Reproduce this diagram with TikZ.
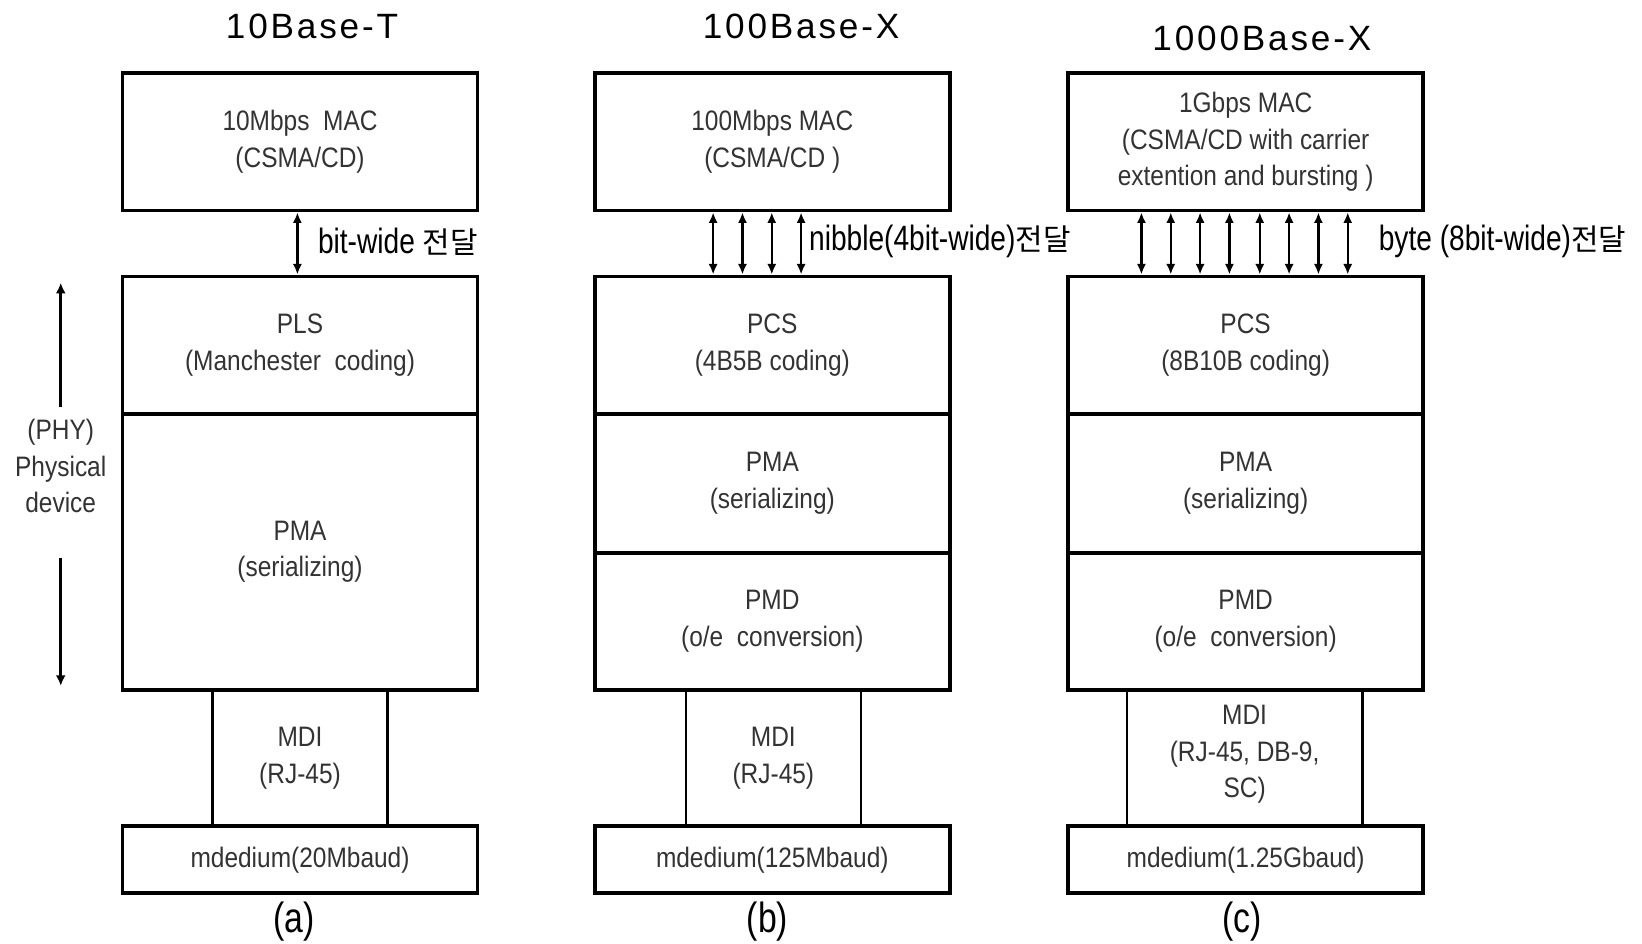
\documentclass[tikz,border=0pt]{standalone}
\usepackage{fontspec}
\setmainfont{Liberation Sans}
\newfontfamily\boxfont[FakeStretch=0.87]{Liberation Sans}
\newfontfamily\lblfont[FakeStretch=0.8]{Liberation Sans}
\newfontfamily\ttlfont[LetterSpace=8]{Liberation Sans}
\newfontfamily\krfont{Noto Sans CJK KR}
\usetikzlibrary{fit,arrows.meta}
\newcommand{\jd}{{\krfont\fontsize{8.5}{8.5}\selectfont 전달}}
\begin{document}
\begin{tikzpicture}[x=0.010472cm,y=-0.010472cm,
  boxtxt/.style={inner sep=0pt, align=center,
    font=\boxfont\fontsize{8}{10.4}\selectfont, text=black!80},
  layer/.style={draw=black, line width=1.1pt, inner sep=0pt},
  mdibox/.style={layer, line width=0.7pt},
  ttl/.style={font=\ttlfont\fontsize{10}{12}\selectfont, inner sep=0pt},
  lbl/.style={font=\lblfont\fontsize{10}{12}\selectfont, anchor=west, inner sep=0pt},
  captxt/.style={font=\lblfont\fontsize{12}{14}\selectfont, inner sep=0pt},
  link/.style={line width=0.7pt, {Latex[length=3pt,width=2.6pt]}-{Latex[length=3pt,width=2.6pt]}},
  phyarr/.style={line width=0.9pt, -{Latex[length=3pt,width=2.8pt]}}]
\useasboundingbox (0,0) rectangle (1568,901);

% titles
\node[ttl] (ta) at (298,25) {10Base-T};
\node[ttl] (tb) at (765,25) {100Base-X};
\node[ttl] (tc) at (1205,37) {1000Base-X};

% MDI boxes (thin)
\node[mdibox, fit={(203,659) (370,789)}, label={[boxtxt]center:{MDI\\(RJ-45)}}] (mdia) {};
\node[mdibox, fit={(655,659) (822,789)}, label={[boxtxt]center:{MDI\\(RJ-45)}}] (mdib) {};
\node[mdibox, fit={(1076,659) (1301,789)}, label={[boxtxt, yshift=1pt]center:{MDI\\(RJ-45, DB-9,\\SC)}}] (mdic) {};

% column (a)
\node[layer, fit={(117,70) (456,201)}, label={[boxtxt]center:{10Mbps\ \ MAC\\(CSMA/CD)}}] (maca) {};
\node[layer, fit={(117,264) (456,395)}, label={[boxtxt]center:{PLS\\(Manchester\ \ coding)}}] (plsa) {};
\node[layer, fit={(117,395) (456,659)}, label={[boxtxt]center:{PMA\\(serializing)}}] (pmaa) {};
\node[layer, fit={(117,789) (456,853)}, label={[boxtxt]center:{mdedium(20Mbaud)}}] (meda) {};

% column (b)
\node[layer, fit={(568,70) (907,201)}, label={[boxtxt]center:{100Mbps MAC\\(CSMA/CD )}}] (macb) {};
\node[layer, fit={(568,264) (907,395)}, label={[boxtxt]center:{PCS\\(4B5B coding)}}] (pcsb) {};
\node[layer, fit={(568,395) (907,528)}, label={[boxtxt]center:{PMA\\(serializing)}}] (pmab) {};
\node[layer, fit={(568,528) (907,659)}, label={[boxtxt]center:{PMD\\(o/e\ \ conversion)}}] (pmdb) {};
\node[layer, fit={(568,789) (907,853)}, label={[boxtxt]center:{mdedium(125Mbaud)}}] (medb) {};

% column (c)
\node[layer, fit={(1020,70) (1359,201)}, label={[boxtxt]center:{1Gbps MAC\\(CSMA/CD with carrier\\extention and bursting )}}] (macc) {};
\node[layer, fit={(1020,264) (1359,395)}, label={[boxtxt]center:{PCS\\(8B10B coding)}}] (pcsc) {};
\node[layer, fit={(1020,395) (1359,528)}, label={[boxtxt]center:{PMA\\(serializing)}}] (pmac) {};
\node[layer, fit={(1020,528) (1359,659)}, label={[boxtxt]center:{PMD\\(o/e\ \ conversion)}}] (pmdc) {};
\node[layer, fit={(1020,789) (1359,853)}, label={[boxtxt]center:{mdedium(1.25Gbaud)}}] (medc) {};

% captions
\node[captxt] (capa) at (281,880) {(a)};
\node[captxt] (capb) at (733,880) {(b)};
\node[captxt] (capc) at (1186,880) {(c)};

% links
\draw[link] (maca.south -| 284,0) -- (plsa.north -| 284,0);
\foreach \x in {681,709,737,765}
  \draw[link] (macb.south -| \x,0) -- (pcsb.north -| \x,0);
\foreach \x in {1090,1118,1146,1174,1203,1231,1259,1287}
  \draw[link] (macc.south -| \x,0) -- (pcsc.north -| \x,0);

\node[lbl] (la) at (303,231) {bit-wide \jd};
\node[lbl] (lb) at (772,231) {nibble(4bit-wide)\jd};
\node[lbl] (lc) at (1316,231) {byte (8bit-wide)\jd};

% PHY
\node[boxtxt] (phy) at (58,445) {(PHY)\\Physical\\device};
\coordinate (phytop) at (58,270);
\coordinate (phyt0) at (58,389);
\coordinate (phyb0) at (58,533);
\coordinate (phybot) at (58,655);
\draw[phyarr] (phyt0) -- (phytop);
\draw[phyarr] (phyb0) -- (phybot);
\end{tikzpicture}
\end{document}
